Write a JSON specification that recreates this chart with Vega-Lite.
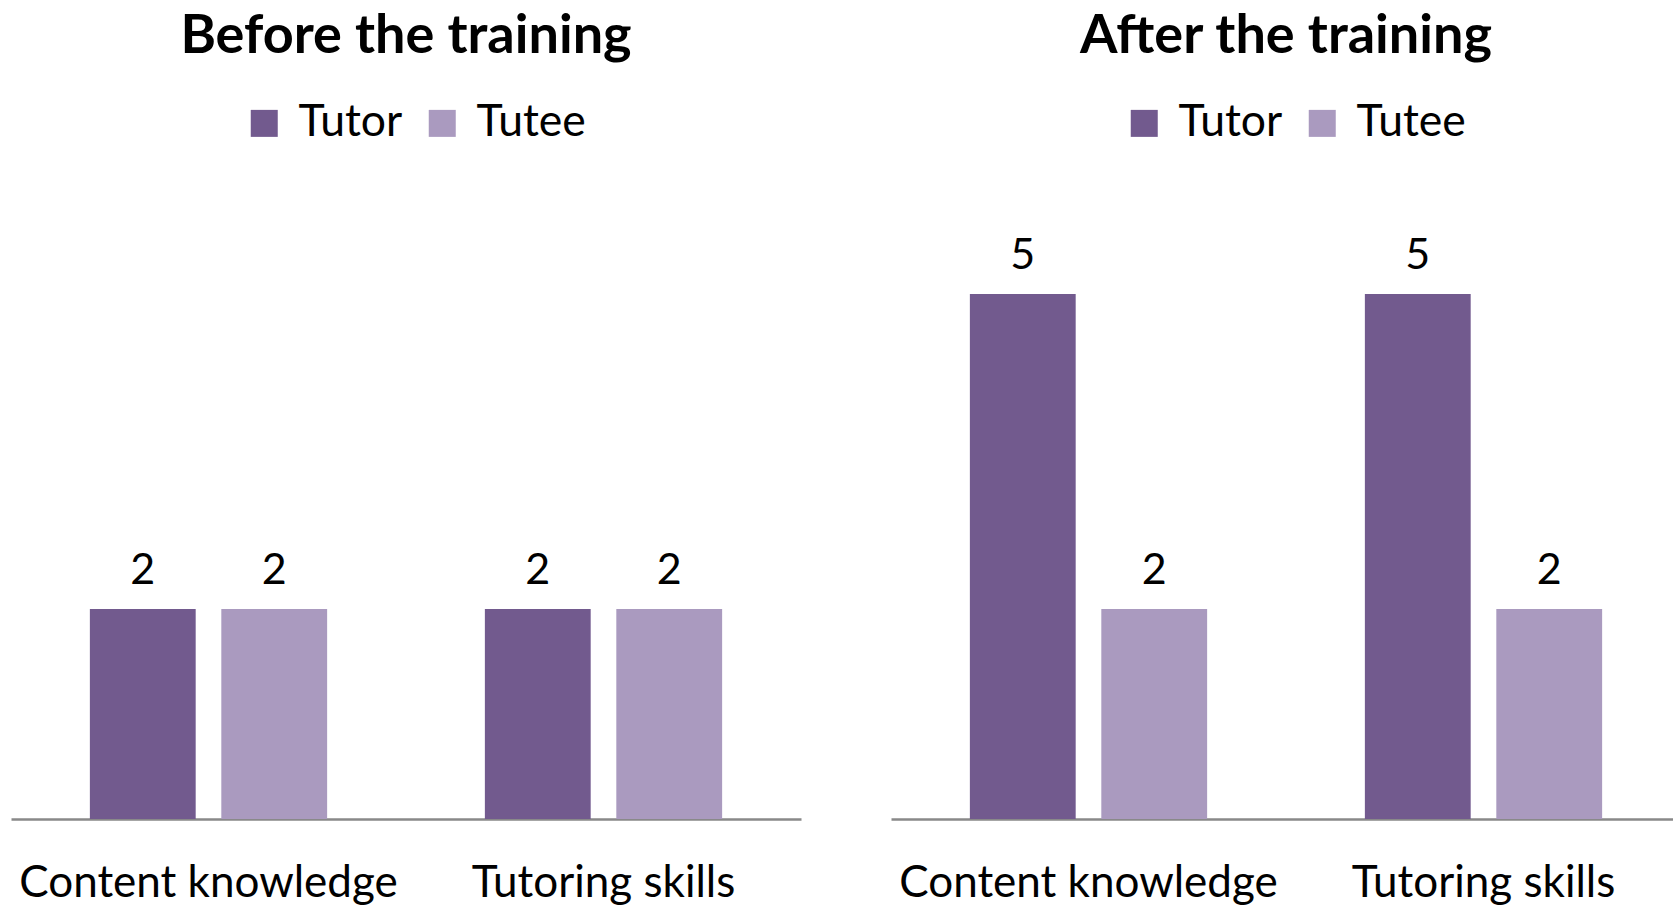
{
  "$schema": "https://vega.github.io/schema/vega-lite/v6.json",
  "background": "white",
  "padding": {"left": 11, "top": 10, "right": 0, "bottom": 0},
  "spacing": 90,
  "datasets": {
    "before": [
      {"category": "Content knowledge", "series": "Tutor", "value": 2},
      {"category": "Content knowledge", "series": "Tutee", "value": 2},
      {"category": "Tutoring skills", "series": "Tutor", "value": 2},
      {"category": "Tutoring skills", "series": "Tutee", "value": 2}
    ],
    "after": [
      {"category": "Content knowledge", "series": "Tutor", "value": 5},
      {"category": "Content knowledge", "series": "Tutee", "value": 2},
      {"category": "Tutoring skills", "series": "Tutor", "value": 5},
      {"category": "Tutoring skills", "series": "Tutee", "value": 2}
    ]
  },
  "config": {
    "font": "Lato",
    "view": {"stroke": null},
    "axis": {"domainColor": "#898989", "domainWidth": 2.5, "ticks": false, "tickSize": 0, "grid": false, "labelFont": "Lato", "labelFontSize": 44, "labelColor": "#000000", "labelAngle": 0, "labelBaseline": "alphabetic", "labelPadding": 77, "title": null, "labelLimit": 600},
    "legend": {"labelFont": "Lato", "labelFontSize": 44.5, "labelColor": "#000000", "symbolType": "square", "symbolSize": 729, "symbolStrokeWidth": 0, "symbolOpacity": 1, "labelOffset": 12, "columnPadding": 17, "padding": 0, "offset": 0},
    "title": {"font": "Lato", "fontSize": 54, "fontWeight": "bold", "color": "#000000", "anchor": "middle"}
  },
  "resolve": {"scale": {"color": "independent", "y": "independent"}, "legend": {"color": "independent"}},
  "hconcat": [
    {
      "title": {"text": "Before the training", "offset": 37},
      "data": {"name": "before"},
      "width": 790,
      "height": 525,
      "encoding": {
        "x": {"field": "category", "type": "nominal", "sort": ["Content knowledge", "Tutoring skills"], "scale": {"paddingInner": 0, "paddingOuter": 0}},
        "xOffset": {"field": "series", "type": "nominal", "sort": ["Tutor", "Tutee"], "scale": {"paddingInner": 0.195, "paddingOuter": 0.6}},
        "y": {"field": "value", "type": "quantitative", "scale": {"domain": [0, 5]}, "axis": null}
      },
      "layer": [
        {
          "mark": {"type": "bar"},
          "encoding": {
            "color": {"field": "series", "type": "nominal", "sort": ["Tutor", "Tutee"], "scale": {"domain": ["Tutor", "Tutee"], "range": ["#725A8E", "#AA9ABF"]}, "legend": {"title": null, "orient": "none", "direction": "horizontal", "legendX": 231, "legendY": -193}}
          }
        },
        {
          "mark": {"type": "text", "dy": -25, "baseline": "alphabetic", "fontSize": 43, "font": "Lato", "color": "#000000"},
          "encoding": {"text": {"field": "value", "type": "quantitative"}}
        }
      ]
    },
    {
      "title": {"text": "After the training", "offset": 37},
      "data": {"name": "after"},
      "width": 790,
      "height": 525,
      "encoding": {
        "x": {"field": "category", "type": "nominal", "sort": ["Content knowledge", "Tutoring skills"], "scale": {"paddingInner": 0, "paddingOuter": 0}},
        "xOffset": {"field": "series", "type": "nominal", "sort": ["Tutor", "Tutee"], "scale": {"paddingInner": 0.195, "paddingOuter": 0.6}},
        "y": {"field": "value", "type": "quantitative", "scale": {"domain": [0, 5]}, "axis": null}
      },
      "layer": [
        {
          "mark": {"type": "bar"},
          "encoding": {
            "color": {"field": "series", "type": "nominal", "sort": ["Tutor", "Tutee"], "scale": {"domain": ["Tutor", "Tutee"], "range": ["#725A8E", "#AA9ABF"]}, "legend": {"title": null, "orient": "none", "direction": "horizontal", "legendX": 231, "legendY": -193}}
          }
        },
        {
          "mark": {"type": "text", "dy": -25, "baseline": "alphabetic", "fontSize": 43, "font": "Lato", "color": "#000000"},
          "encoding": {"text": {"field": "value", "type": "quantitative"}}
        }
      ]
    }
  ]
}
